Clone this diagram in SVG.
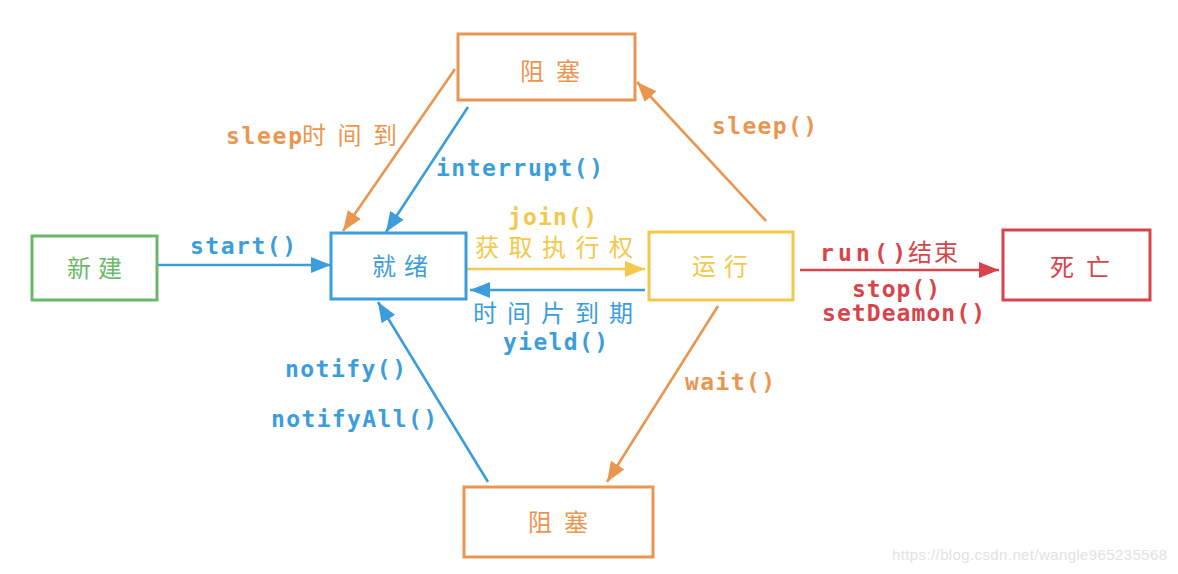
<svg xmlns="http://www.w3.org/2000/svg" width="1178" height="574" viewBox="0 0 1178 574">
<style>
.box{fill:#fff;stroke-width:3}
.ln{fill:none;stroke-width:2.6}
.mono{font-family:"DejaVu Sans Mono","Liberation Mono",monospace;font-weight:bold;font-size:23px}
.cjk{font-family:"Noto Sans CJK SC","Noto Sans",sans-serif;font-size:24px}
.g{fill:#6cb86a}
.b{fill:#3c9ddc}
.y{fill:#f2c94c}
.o{fill:#ea9650}
.r{fill:#d8444b}
</style>
<defs>
<marker id="ab" markerUnits="userSpaceOnUse" markerWidth="20" markerHeight="16" refX="20" refY="8" orient="auto"><path d="M0,0 L20,8 L0,16 z" fill="#3c9ddc"/></marker>
<marker id="ay" markerUnits="userSpaceOnUse" markerWidth="20" markerHeight="16" refX="20" refY="8" orient="auto"><path d="M0,0 L20,8 L0,16 z" fill="#f2c94c"/></marker>
<marker id="ao" markerUnits="userSpaceOnUse" markerWidth="20" markerHeight="16" refX="20" refY="8" orient="auto"><path d="M0,0 L20,8 L0,16 z" fill="#ea9650"/></marker>
<marker id="ar" markerUnits="userSpaceOnUse" markerWidth="20" markerHeight="16" refX="20" refY="8" orient="auto"><path d="M0,0 L20,8 L0,16 z" fill="#d8444b"/></marker>
</defs>
<rect width="1178" height="574" fill="#fff"/>
<g id="connectors">
<line class="ln" stroke="#3c9ddc" x1="157" y1="265" x2="331" y2="265" marker-end="url(#ab)"/>
<line class="ln" stroke="#f2c94c" x1="466" y1="269" x2="645" y2="269" marker-end="url(#ay)"/>
<line class="ln" stroke="#3c9ddc" x1="645" y1="290" x2="470" y2="290" marker-end="url(#ab)"/>
<line class="ln" stroke="#d8444b" x1="800" y1="270" x2="999" y2="270" marker-end="url(#ar)"/>
<line class="ln" stroke="#ea9650" x1="766" y1="221" x2="637" y2="82" marker-end="url(#ao)"/>
<line class="ln" stroke="#ea9650" x1="455" y1="69" x2="343" y2="231" marker-end="url(#ao)"/>
<line class="ln" stroke="#3c9ddc" x1="468" y1="107" x2="386" y2="232" marker-end="url(#ab)"/>
<line class="ln" stroke="#3c9ddc" x1="488" y1="482" x2="378" y2="302" marker-end="url(#ab)"/>
<line class="ln" stroke="#ea9650" x1="718" y1="306" x2="607" y2="482" marker-end="url(#ao)"/>
<text class="mono b" x="190" y="254" textLength="106">start()</text>
<text class="mono o" x="226" y="144" textLength="76">sleep</text>
<text class="cjk o" x="302" y="144" textLength="95" lengthAdjust="spacing">时间到</text>
<text class="mono b" x="436" y="176" textLength="167">interrupt()</text>
<text class="mono o" x="712" y="134" textLength="105">sleep()</text>
<text class="mono y" x="508" y="225" textLength="89">join()</text>
<text class="cjk y" x="475" y="256" textLength="158" lengthAdjust="spacing">获取执行权</text>
<text class="cjk b" x="473" y="322" textLength="160" lengthAdjust="spacing">时间片到期</text>
<text class="mono b" x="503" y="350" textLength="105">yield()</text>
<text class="mono r" x="820" y="261" textLength="86">run()</text>
<text class="cjk r" x="908" y="261" textLength="50" lengthAdjust="spacing">结束</text>
<text class="mono r" x="852" y="297" textLength="88">stop()</text>
<text class="mono r" x="822" y="321" textLength="163">setDeamon()</text>
<text class="mono b" x="285" y="377" textLength="121">notify()</text>
<text class="mono b" x="271" y="427" textLength="166">notifyAll()</text>
<text class="mono o" x="685" y="390" textLength="90">wait()</text>
</g>
<g id="new">
<rect class="box" stroke="#6cb86a" x="32" y="236" width="125" height="64"/>
<text class="cjk g" x="67" y="277" textLength="55" lengthAdjust="spacing">新建</text>
</g>
<g id="ready">
<rect class="box" stroke="#3c9ddc" x="331" y="233" width="135" height="66"/>
<text class="cjk b" x="372" y="275" textLength="56" lengthAdjust="spacing">就绪</text>
</g>
<g id="running">
<rect class="box" stroke="#f2c94c" x="649" y="232" width="144" height="68"/>
<text class="cjk y" x="692" y="275" textLength="56" lengthAdjust="spacing">运行</text>
</g>
<g id="dead">
<rect class="box" stroke="#d8444b" x="1003" y="230" width="147" height="70"/>
<text class="cjk r" x="1050" y="276" textLength="60" lengthAdjust="spacing">死亡</text>
</g>
<g id="blocked-top">
<rect class="box" stroke="#ea9650" x="458" y="34" width="177" height="66"/>
<text class="cjk o" x="520" y="80" textLength="60" lengthAdjust="spacing">阻塞</text>
</g>
<g id="blocked-bottom">
<rect class="box" stroke="#ea9650" x="464" y="487" width="189" height="70"/>
<text class="cjk o" x="528" y="531" textLength="60" lengthAdjust="spacing">阻塞</text>
</g>
<text x="892" y="560" font-family="Liberation Sans, Arial, sans-serif" font-size="15" fill="#e2e2e2" textLength="275">https://blog.csdn.net/wangle965235568</text>
</svg>
